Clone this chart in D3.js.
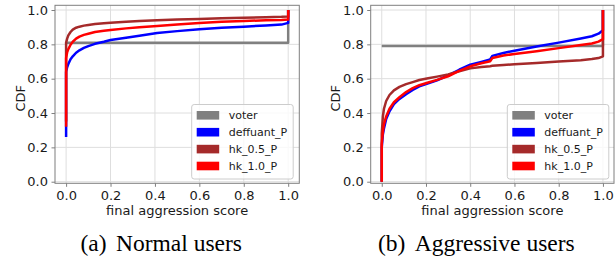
<!DOCTYPE html>
<html><head><meta charset="utf-8">
<script src="https://cdn.jsdelivr.net/npm/d3@7"></script>
<style>body{margin:0;background:#fff}svg{display:block}</style>
</head><body><svg id="c" width="616" height="262"></svg>
<script>
const seriesNames = ["voter", "deffuant_P", "hk_0.5_P", "hk_1.0_P"];
const seriesColors = ["#808080", "#0000ff", "#a52a2a", "#ff0000"];
const xTicks = [0, 0.2, 0.4, 0.6, 0.8, 1.0];
const yTicks = [0, 0.2, 0.4, 0.6, 0.8, 1.0];
const captionTags = ["(a)", "(b)"];
const captionTexts = ["Normal users", "Aggressive users"];

// (a) Normal users
const normalX = [0, 0, 0.005, 0.01, 0.02, 0.03, 0.045, 0.06, 0.08, 0.1, 0.13, 0.17, 0.2, 0.27, 0.33, 0.41, 0.5, 0.6, 0.7, 0.8, 0.9, 0.97, 1.0, 1.0];
const normalVoter    = [0.81, 0.81, 0.81, 0.81, 0.81, 0.81, 0.81, 0.81, 0.81, 0.81, 0.81, 0.81, 0.81, 0.81, 0.81, 0.81, 0.81, 0.81, 0.81, 0.81, 0.81, 0.81, 0.81, 1.0];
const normalDeffuant = [0.26, 0.64, 0.668, 0.685, 0.713, 0.73, 0.751, 0.765, 0.779, 0.79, 0.803, 0.815, 0.825, 0.839, 0.85, 0.866, 0.877, 0.888, 0.896, 0.903, 0.91, 0.915, 0.925, 1.0];
const normalHk05     = [0.35, 0.81, 0.835, 0.852, 0.872, 0.886, 0.897, 0.903, 0.909, 0.913, 0.918, 0.923, 0.926, 0.931, 0.936, 0.941, 0.945, 0.948, 0.952, 0.955, 0.958, 0.96, 0.962, 1.0];
const normalHk10     = [0.32, 0.72, 0.755, 0.772, 0.798, 0.815, 0.833, 0.845, 0.855, 0.862, 0.872, 0.879, 0.884, 0.893, 0.899, 0.907, 0.916, 0.925, 0.931, 0.936, 0.94, 0.942, 0.945, 1.0];

// (b) Aggressive users
const aggrX = [0, 0, 0.005, 0.01, 0.02, 0.035, 0.055, 0.08, 0.11, 0.14, 0.17, 0.21, 0.25, 0.3, 0.35, 0.4, 0.45, 0.49, 0.5, 0.55, 0.6, 0.7, 0.8, 0.9, 0.95, 0.98, 1.0, 1.0];
const aggrVoter    = [0.79, 0.79, 0.79, 0.79, 0.79, 0.79, 0.79, 0.79, 0.79, 0.79, 0.79, 0.79, 0.79, 0.79, 0.79, 0.79, 0.79, 0.79, 0.79, 0.79, 0.79, 0.79, 0.79, 0.79, 0.79, 0.79, 0.79, 1.0];
const aggrDeffuant = [0.0, 0.2, 0.275, 0.31, 0.365, 0.41, 0.452, 0.482, 0.51, 0.535, 0.555, 0.573, 0.59, 0.62, 0.652, 0.682, 0.698, 0.712, 0.733, 0.75, 0.763, 0.787, 0.81, 0.834, 0.847, 0.862, 0.882, 1.0];
const aggrHk05     = [0.0, 0.28, 0.38, 0.425, 0.47, 0.505, 0.532, 0.552, 0.568, 0.58, 0.592, 0.602, 0.612, 0.625, 0.643, 0.66, 0.668, 0.673, 0.675, 0.68, 0.684, 0.692, 0.7, 0.708, 0.714, 0.72, 0.73, 1.0];
const aggrHk10     = [0.0, 0.22, 0.29, 0.335, 0.38, 0.425, 0.463, 0.492, 0.522, 0.545, 0.562, 0.578, 0.593, 0.614, 0.645, 0.672, 0.69, 0.702, 0.72, 0.735, 0.744, 0.76, 0.778, 0.796, 0.805, 0.816, 0.83, 1.0];

const panels = [
  {x: normalX, ys: [normalVoter, normalDeffuant, normalHk05, normalHk10], left: 55, right: 299.3, cdfX: 20, legX: 191.7, capX: 80.5},
  {x: aggrX, ys: [aggrVoter, aggrDeffuant, aggrHk05, aggrHk10], left: 370.7, right: 614, cdfX: 335.5, legX: 507.3, capX: 378}
];

const svg = d3.select("#c");
const plotTop = 5.3, plotBottom = 183.3;
const font = "DejaVu Sans, sans-serif";
const spineColor = "#7f7f7f";

panels.forEach((p, pi) => {
  const x = d3.scaleLinear().domain([-0.05, 1.05]).range([p.left, p.right]);
  const y = d3.scaleLinear().domain([-0.0093, 1.0274]).range([plotBottom, plotTop]);
  const g = svg.append("g");
  // grid
  g.selectAll(".gx").data(xTicks).join("line")
    .attr("x1", d => x(d)).attr("x2", d => x(d)).attr("y1", plotTop).attr("y2", plotBottom)
    .attr("stroke", "#dedede").attr("stroke-width", 1);
  g.selectAll(".gy").data(yTicks).join("line")
    .attr("y1", d => y(d)).attr("y2", d => y(d)).attr("x1", p.left).attr("x2", p.right)
    .attr("stroke", "#dedede").attr("stroke-width", 1);
  // lines
  const line = d3.line().x(d => x(d[0])).y(d => y(d[1]));
  p.ys.forEach((ys, i) => {
    const pts = p.x.map((xv, j) => [xv, ys[j]]);
    g.append("path").attr("d", line(pts)).attr("fill", "none")
      .attr("stroke", seriesColors[i]).attr("stroke-width", 2.5)
      .attr("stroke-linejoin", "round");
  });
  // axes
  const xa = g.append("g").attr("transform", `translate(0,${plotBottom})`)
    .call(d3.axisBottom(x).tickValues(xTicks).tickFormat(d3.format(".1f")).tickSize(3.5).tickPadding(3.5));
  const ya = g.append("g").attr("transform", `translate(${p.left},0)`)
    .call(d3.axisLeft(y).tickValues(yTicks).tickFormat(d3.format(".1f")).tickSize(3.5).tickPadding(3.5));
  [xa, ya].forEach(a => {
    a.select(".domain").remove();
    a.selectAll("line").attr("stroke", spineColor);
    a.selectAll("text").attr("font-family", font).attr("font-size", 13).attr("fill", "#1a1a1a");
  });
  // spines
  g.append("rect").attr("x", p.left).attr("y", plotTop).attr("width", p.right - p.left).attr("height", plotBottom - plotTop)
    .attr("fill", "none").attr("stroke", spineColor).attr("stroke-width", 1);
  // labels
  g.append("text").attr("x", (p.left + p.right) / 2).attr("y", 214.5).attr("text-anchor", "middle")
    .attr("font-family", font).attr("font-size", 13).attr("fill", "#1a1a1a").text("final aggression score");
  g.append("text").attr("transform", `translate(${p.cdfX},${(plotTop + plotBottom) / 2 + 4}) rotate(-90)`)
    .attr("text-anchor", "middle").attr("dominant-baseline", "central")
    .attr("font-family", font).attr("font-size", 13).attr("fill", "#1a1a1a").text("CDF");
  // legend
  const lg = g.append("g").attr("transform", `translate(${p.legX},104.5)`);
  lg.append("rect").attr("width", 101.5).attr("height", 74.5).attr("rx", 2.5)
    .attr("fill", "#fff").attr("fill-opacity", 0.8).attr("stroke", "#cccccc").attr("stroke-width", 1);
  seriesNames.forEach((n, i) => {
    const cy = 10.8 + i * 16.9;
    lg.append("rect").attr("x", 5).attr("y", cy - 4.3).attr("width", 22.5).attr("height", 8.6)
      .attr("fill", seriesColors[i]);
    lg.append("text").attr("x", 37).attr("y", cy).attr("dominant-baseline", "central")
      .attr("font-family", font).attr("font-size", 11).attr("fill", "#1a1a1a").text(n);
  });
  // caption
  const cap = svg.append("text").attr("x", p.capX).attr("y", 251)
    .attr("font-family", "Liberation Serif, 'Times New Roman', serif").attr("font-size", 23.5).attr("fill", "#000");
  cap.append("tspan").text(captionTags[pi]);
  cap.append("tspan").attr("dx", 9.4).text(captionTexts[pi]);
});
</script></body></html>
